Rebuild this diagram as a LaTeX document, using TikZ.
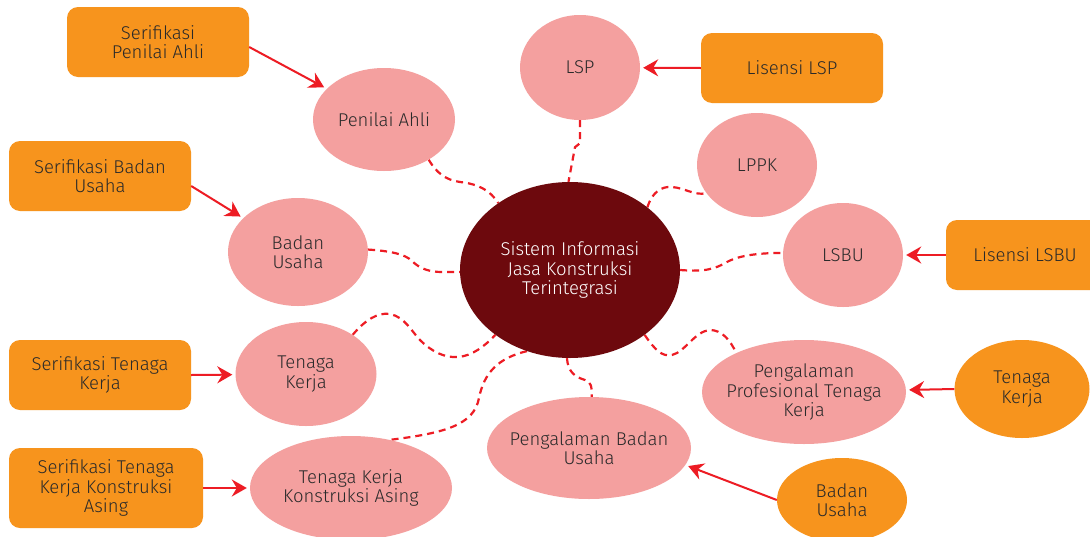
\documentclass[tikz,border=0pt]{standalone}
\usepackage{fontspec}
\setmainfont{Fira Sans}[UprightFont={* Light}]
\usetikzlibrary{shapes.geometric,arrows.meta}
\definecolor{boxorange}{HTML}{F7941D}
\definecolor{bubblepink}{HTML}{F4A09F}
\definecolor{hubred}{HTML}{6D090D}
\definecolor{linkred}{HTML}{ED1C24}
\definecolor{inkgray}{HTML}{2A2A2A}
\pgfdeclarelayer{background}
\pgfsetlayers{background,main}
\begin{document}
\begin{tikzpicture}[x=1pt,y=-1pt,
  every node/.style={font=\fontsize{18.5}{19.5}\selectfont, align=center},
  hub/.style={ellipse, fill=hubred, text=white, inner sep=0pt, inner xsep=-20pt,
    minimum width=220pt, minimum height=176pt},
  bubble/.style={ellipse, fill=bubblepink, text=inkgray, inner sep=0pt, inner xsep=-20pt},
  source/.style={ellipse, fill=boxorange, text=inkgray, inner sep=0pt, inner xsep=-20pt},
  tag/.style={rectangle, rounded corners=11pt, fill=boxorange, text=inkgray,
    inner sep=0pt},
  feed/.style={draw=linkred, line width=2pt,
    -{Stealth[length=15pt,width=17pt,inset=5pt]}, shorten >=3pt},
  tie/.style={draw=linkred, line width=2.2pt, dash pattern=on 7pt off 5pt}]
\useasboundingbox (0,0) rectangle (1090,536);

% central system
\node[hub] (sys) at (570,270) {Sistem Informasi\\Jasa Konstruksi\\Terintegrasi};

% surrounding bubbles
\node[bubble, minimum width=120pt, minimum height=105pt] (lsp)  at (580,67.5) {LSP};
\node[bubble, minimum width=120pt, minimum height=104pt] (lppk) at (757,165) {LPPK};
\node[bubble, minimum width=120pt, minimum height=104pt] (lsbu) at (843,255) {LSBU};
\node[bubble, minimum width=142pt, minimum height=103pt] (pa)   at (384,119.5) {Penilai Ahli};
\node[bubble, minimum width=140pt, minimum height=108pt] (bu)   at (298,252) {Badan\\Usaha};
\node[bubble, minimum width=141pt, minimum height=104pt] (tk)   at (306,374) {Tenaga\\Kerja};
\node[bubble, minimum width=202pt, minimum height=104pt] (tka)  at (351,488) {Tenaga Kerja\\Konstruksi Asing};
\node[bubble, minimum width=204pt, minimum height=102pt] (pbu)  at (589,448) {Pengalaman Badan\\Usaha};
\node[bubble, minimum width=204pt, minimum height=104pt] (ppt)  at (804,392) {Pengalaman\\Profesional Tenaga\\Kerja};

% orange sources
\node[source, minimum width=135pt, minimum height=98pt] (otk) at (1022,389) {Tenaga\\Kerja};
\node[source, minimum width=130pt, minimum height=84pt] (obu) at (842,500) {Badan\\Usaha};

\node[tag, minimum width=182pt, minimum height=70pt] (spa)   at (158,42)  {Serifikasi\\Penilai Ahli};
\node[tag, minimum width=182pt, minimum height=70pt] (sbu)   at (100,176) {Serifikasi Badan\\Usaha};
\node[tag, minimum width=182pt, minimum height=70pt] (stk)   at (100,375) {Serifikasi Tenaga\\Kerja};
\node[tag, minimum width=194pt, minimum height=80pt] (stka)  at (106,488) {Serifikasi Tenaga\\Kerja Konstruksi\\Asing};
\node[tag, minimum width=182pt, minimum height=70pt] (llsp)  at (792,68)  {Lisensi LSP};
\node[tag, minimum width=158pt, minimum height=70pt] (llsbu) at (1025,255) {Lisensi LSBU};

% solid arrows into the bubbles
\draw[feed] ([yshift=-5pt]spa.east) -- (pa);
\draw[feed] ([yshift=-10pt]sbu.east) -- (bu);
\draw[feed] (stk.east) -- (tk);
\draw[feed] (stka.east) -- (tka);
\draw[feed] (llsp.west) -- (lsp);
\draw[feed] (llsbu.west) -- (lsbu);
\draw[feed] (otk.west) -- (ppt);
\draw[feed] (obu.west) -- (pbu.-10);

% dashed ties to the central system, kept behind the bubbles
\begin{pgfonlayer}{background}
\fill[white] (0,0) rectangle (1090,536);
\draw[tie] (lsp.south) -- ++(0,23) -- ++(-5,4) -- (sys.91);
\draw[tie] (sys.39) .. controls (652,192) and (662,186) .. (672,187)
  .. controls (685,188) and (695,196) .. (lppk.209);
\draw[tie] (sys.east) .. controls (705,272) and (715,269) .. (727,262)
  .. controls (740,255) and (760,253) .. (lsbu.178);
\draw[tie] (sys.-41) .. controls (655,350) and (662,357) .. (672,355)
  .. controls (685,352) and (695,331) .. (710,330)
  .. controls (722,330) and (730,340) .. (ppt.150);
\draw[tie] (sys.-92) .. controls (568,372) and (575,377) .. (585,380)
  .. controls (591,382) and (592,386) .. (pbu.87);
\draw[tie] (sys.242) .. controls (498,358) and (484,373) .. (479,398)
  .. controls (474,425) and (445,433) .. (tka.51);
\draw[tie] (tk.40) .. controls (365,320) and (378,312) .. (390,314)
  .. controls (405,317) and (412,332) .. (420,340)
  .. controls (432,352) and (445,358) .. (458,357)
  .. controls (472,356) and (485,346) .. (sys.221);
\draw[tie] (bu.2) .. controls (390,251) and (405,254) .. (412,261)
  .. controls (420,269) and (430,272) .. (442,272) -- (sys.181);
\draw[tie] (pa.-42) .. controls (436,172) and (445,180) .. (460,182)
  .. controls (478,184) and (490,190) .. (sys.137);
\end{pgfonlayer}
\end{tikzpicture}
\end{document}
